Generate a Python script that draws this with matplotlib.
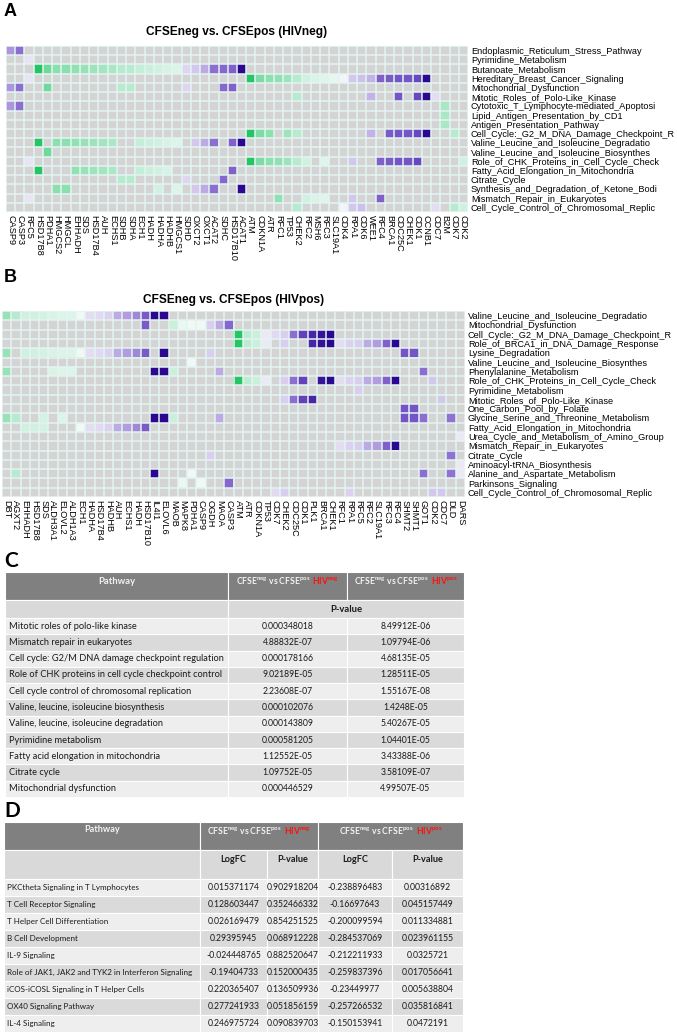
import numpy as np
import matplotlib
matplotlib.use("Agg")
import matplotlib.pyplot as plt
from matplotlib.colors import LinearSegmentedColormap, Normalize
from matplotlib.patches import Rectangle
from matplotlib.offsetbox import TextArea, HPacker, AnnotationBbox

plt.rcParams['font.family'] = ['Liberation Sans', 'DejaVu Sans']
plt.rcParams['mathtext.default'] = 'regular'

# ---------------------------------------------------------------------------
# panel A : gene fold change (HIVneg) and pathway membership
A_genes = ["CASP9", "CASP3", "RFC5", "HSD17B8", "PDHA1", "HMGCS2", "HMGCL", "EHHADH",
           "SDS", "HSD17B4", "AUH", "ECHS1", "SDHB", "SDHA", "ECH1", "HADH", "HADHA",
           "HADHB", "HMGCS1", "SDHD", "OXCT2", "OXCT1", "ACAT2", "SDHC", "HSD17B10",
           "ACAT1", "ATM", "CDKN1A", "ATR", "RFC1", "TP53", "CHEK2", "RFC2", "MSH6",
           "RFC3", "SLC19A1", "CDK4", "RPA1", "CDK6", "WEE1", "RFC4", "BRCA1", "CDC25C",
           "CHEK1", "CDK1", "CCNB1", "CDC7", "B2M", "CDK7", "CDK2"]
A_logfc = [1.3, 1.9, 0.2, -3.0, -2.0, -1.6, -1.6, -1.5,
           -1.4, -1.3, -1.2, -1.1, -0.9, -0.9, -0.7, -0.6, -0.5,
           -0.4, -0.3, 0.4, 0.6, 1.0, 1.9, 2.0, 2.1,
           3.5, -3.0, -1.8, -1.6, -1.5, -1.3, -0.9, -0.5, -0.35,
           -0.25, -0.15, 0.05, 0.6, 0.7, 0.9, 2.1, 2.2, 2.3,
           2.3, 2.5, 3.5, 0.3, -1.1, -0.9, -0.5]
A_pathways = ["Endoplasmic_Reticulum_Stress_Pathway", "Pyrimidine_Metabolism",
              "Butanoate_Metabolism", "Hereditary_Breast_Cancer_Signaling",
              "Mitochondrial_Dysfunction", "Mitotic_Roles_of_Polo-Like_Kinase",
              "Cytotoxic_T_Lymphocyte-mediated_Apoptosi", "Lipid_Antigen_Presentation_by_CD1",
              "Antigen_Presentation_Pathway", "Cell_Cycle:_G2_M_DNA_Damage_Checkpoint_R",
              "Valine_Leucine_and_Isoleucine_Degradatio", "Valine_Leucine_and_Isoleucine_Biosynthes",
              "Role_of_CHK_Proteins_in_Cell_Cycle_Check", "Fatty_Acid_Elongation_in_Mitochondria",
              "Citrate_Cycle", "Synthesis_and_Degradation_of_Ketone_Bodi",
              "Mismatch_Repair_in_Eukaryotes", "Cell_Cycle_Control_of_Chromosomal_Replic"]
A_members = [
    ["CASP9", "CASP3"],
    ["RFC5"],
    A_genes[3:26],
    ["RFC5"] + A_genes[26:46],
    ["CASP9", "CASP3", "PDHA1", "SDHB", "SDHA", "SDHD", "SDHC", "HSD17B10"],
    ["CHEK2", "WEE1", "CDC25C", "CDK1", "CCNB1", "CDC7"],
    ["CASP9", "CASP3", "B2M"],
    ["B2M"],
    ["B2M"],
    ["ATM", "CDKN1A", "ATR", "TP53", "CHEK2", "WEE1", "BRCA1", "CDC25C", "CHEK1", "CDK1",
     "CCNB1", "CDK7"],
    ["HSD17B8", "HMGCS2", "HMGCL", "EHHADH", "SDS", "HSD17B4", "AUH", "ECHS1", "ECH1",
     "HADH", "HADHA", "HADHB", "HMGCS1", "OXCT2", "OXCT1", "ACAT2", "HSD17B10", "ACAT1"],
    ["PDHA1"],
    ["RFC5", "ATM", "CDKN1A", "ATR", "RFC1", "TP53", "CHEK2", "RFC2", "RFC3", "RPA1",
     "RFC4", "BRCA1", "CDC25C", "CHEK1", "CDK1", "CDK2"],
    ["HSD17B8", "EHHADH", "SDS", "HSD17B4", "AUH", "ECHS1", "ECH1", "HADH", "HADHA",
     "HADHB", "HSD17B10"],
    ["SDHB", "SDHA", "SDHD", "SDHC"],
    ["HMGCS2", "HMGCL", "HADHA", "HMGCS1", "OXCT2", "OXCT1", "ACAT2", "ACAT1"],
    ["RFC5", "RFC1", "RFC2", "MSH6", "RFC3", "RPA1", "RFC4"],
    ["CHEK2", "CDK4", "RPA1", "CDK6", "CDC7", "CDK7", "CDK2"],
]

# panel B : gene fold change (HIVpos) and pathway membership
B_genes = ["DBT", "AGXT2", "EHHADH", "HSD17B8", "SDS", "ALDH3A1", "ELOVL2", "ALDH1A3",
           "ECH1", "HADHA", "HSD17B4", "HADHB", "AUH", "ECHS1", "HADH", "HSD17B10",
           "IL4I1", "ELOVL6", "MAOB", "MAPK8", "PDHA1", "CASP9", "OGDH", "MAOA", "CASP3",
           "ATM", "ATR", "CDKN1A", "TP53", "CDK7", "CHEK2", "CDC25C", "CDK1", "PLK1",
           "BRCA1", "CHEK1", "RFC1", "RPA1", "RFC5", "RFC2", "SLC19A1", "RFC3", "RFC4",
           "SHMT2", "SHMT1", "GOT1", "CDK2", "CDC7", "DLD", "DARS"]
B_logfc = [-1.4, -0.9, -0.5, -0.5, -0.45, -0.35, -0.3, -0.3,
           -0.05, 0.3, 0.35, 0.45, 1.0, 1.2, 1.5, 2.2,
           3.5, 3.5, -0.6, -0.1, -0.05, -0.05, 0.5, 1.0, 2.0,
           -3.0, -0.8, -0.6, 0.15, 0.35, 0.5, 1.9, 2.6, 3.0,
           3.3, 3.5, 0.3, 0.45, 0.5, 1.0, 1.2, 2.1, 3.5,
           2.3, 2.3, 1.9, 0.6, 0.6, 1.8, 0.15]
B_pathways = ["Valine_Leucine_and_Isoleucine_Degradatio", "Mitochondrial_Dysfunction",
              "Cell_Cycle:_G2_M_DNA_Damage_Checkpoint_R", "Role_of_BRCA1_in_DNA_Damage_Response",
              "Lysine_Degradation", "Valine_Leucine_and_Isoleucine_Biosynthes",
              "Phenylalanine_Metabolism", "Role_of_CHK_Proteins_in_Cell_Cycle_Check",
              "Pyrimidine_Metabolism", "Mitotic_Roles_of_Polo-Like_Kinase",
              "One_Carbon_Pool_by_Folate", "Glycine_Serine_and_Threonine_Metabolism",
              "Fatty_Acid_Elongation_in_Mitochondria", "Urea_Cycle_and_Metabolism_of_Amino_Group",
              "Mismatch_Repair_in_Eukaryotes", "Citrate_Cycle", "Aminoacyl-tRNA_Biosynthesis",
              "Alanine_and_Aspartate_Metabolism", "Parkinsons_Signaling",
              "Cell_Cycle_Control_of_Chromosomal_Replic"]
B_members = [
    B_genes[0:18],
    ["HSD17B10", "MAOB", "MAPK8", "PDHA1", "CASP9", "OGDH", "MAOA", "CASP3"],
    B_genes[25:36],
    ["ATM", "ATR", "CDKN1A", "TP53", "CHEK2", "PLK1", "BRCA1", "CHEK1"] + B_genes[36:43],
    ["DBT"] + B_genes[2:16] + ["ELOVL6", "OGDH", "SHMT2", "SHMT1"],
    ["PDHA1"],
    ["DBT", "ALDH3A1", "ELOVL2", "ALDH1A3", "IL4I1", "ELOVL6", "MAOB", "MAOA", "GOT1"],
    ["ATM", "ATR", "CDKN1A", "TP53", "CHEK2", "CDC25C", "CDK1", "BRCA1", "CHEK1"]
    + B_genes[36:43] + ["CDK2"],
    ["RFC5"],
    ["CHEK2", "CDC25C", "CDK1", "PLK1", "CDC7"],
    ["SHMT2", "SHMT1"],
    ["DBT", "AGXT2", "SDS", "ELOVL2", "IL4I1", "ELOVL6", "MAOB", "MAOA", "SHMT2", "SHMT1",
     "GOT1", "DLD"],
    ["EHHADH", "HSD17B8", "SDS"] + B_genes[8:16],
    ["DARS"],
    B_genes[36:43],
    ["OGDH", "DLD"],
    ["DARS"],
    ["AGXT2", "IL4I1", "PDHA1", "GOT1", "DLD", "DARS"],
    ["MAPK8", "CASP9", "CASP3"],
    ["CDK7", "CHEK2", "RPA1", "CDK2", "CDC7"],
]

# panel C : pathway p-values
C_pathways = ["Mitotic roles of polo-like kinase", "Mismatch repair in eukaryotes",
              "Cell cycle: G2/M DNA damage checkpoint regulation",
              "Role of CHK proteins in cell cycle checkpoint control",
              "Cell cycle control of chromosomal replication",
              "Valine, leucine, isoleucine biosynthesis", "Valine, leucine, isoleucine degradation",
              "Pyrimidine metabolism", "Fatty acid elongation in mitochondria", "Citrate cycle",
              "Mitochondrial dysfunction"]
C_p_hivneg = ["0.000348018", "4.88832E-07", "0.000178166", "9.02189E-05", "2.23608E-07",
              "0.000102076", "0.000143809", "0.000581205", "1.12552E-05", "1.09752E-05",
              "0.000446529"]
C_p_hivpos = ["8.49912E-06", "1.09794E-06", "4.68135E-05", "1.28511E-05", "1.55167E-08",
              "1.4248E-05", "5.40267E-05", "1.04401E-05", "3.43388E-06", "3.58109E-07",
              "4.99507E-05"]

# panel D : immune pathways
D_pathways = ["PKCtheta Signaling in T Lymphocytes", "T Cell Receptor Signaling",
              "T Helper Cell Differentiation", "B Cell Development", "IL-9 Signaling",
              "Role of JAK1, JAK2 and TYK2 in Interferon Signaling",
              "iCOS-iCOSL Signaling in T Helper Cells", "OX40 Signaling Pathway", "IL-4 Signaling"]
D_logfc_neg = ["0.015371174", "0.128603447", "0.026169479", "0.29395945", "-0.024448765",
               "-0.19404733", "0.220365407", "0.277241933", "0.246975724"]
D_p_neg = ["0.902918204", "0.352466332", "0.854251525", "0.068912228", "0.882520647",
           "0.152000435", "0.136509936", "0.051856159", "0.090839703"]
D_logfc_pos = ["-0.238896483", "-0.16697643", "-0.200099594", "-0.284537069", "-0.212211933",
               "-0.259837396", "-0.23449977", "-0.257266532", "-0.150153941"]
D_p_pos = ["0.00316892", "0.045157449", "0.011334881", "0.023961155", "0.0325721",
           "0.017056641", "0.005638804", "0.035816841", "0.0472191"]

# ---------------------------------------------------------------------------
W, H = 677, 1032
fig = plt.figure(figsize=(W / 100, H / 100), dpi=100)

# background axes in pixel coordinates (letters and tables)
bg = fig.add_axes([0, 0, 1, 1])
bg.set_xlim(0, W)
bg.set_ylim(H, 0)
bg.axis('off')

# green - white - purple scale
lo, hi = -3.0, 3.5
stops = [(-3.0, '#26c564'), (-1.8, '#80dca6'), (-0.9, '#b8ebcf'), (-0.1, '#eaf8f1'),
         (0.0, '#f6fafa'), (0.3, '#e4dcf2'), (0.9, '#c3b2e6'), (1.9, '#8c6dd0'),
         (2.5, '#6b48c0'), (3.5, '#2c0890')]
cmap = LinearSegmentedColormap.from_list(
    'gp', [((v - lo) / (hi - lo), c) for v, c in stops])
cmap.set_bad('#d4d4d4')
norm = Normalize(lo, hi)


def build(genes, vals, members):
    M = np.full((len(members), len(genes)), np.nan)
    for i, gl in enumerate(members):
        for g in gl:
            j = genes.index(g)
            M[i, j] = vals[j]
    return np.ma.masked_invalid(M)


def heatmap(box, genes, vals, pathways, members):
    x0, y0, x1, y1 = box
    ax = fig.add_axes([x0 / W, 1 - y1 / H, (x1 - x0) / W, (y1 - y0) / H])
    M = build(genes, vals, members)
    ax.imshow(M, cmap=cmap, norm=norm, aspect='auto', interpolation='nearest')
    ax.set_xticks(np.arange(len(genes)))
    ax.set_xticklabels(genes, rotation=270, fontsize=6.6)
    ax.set_yticks(np.arange(len(pathways)))
    ax.set_yticklabels(pathways, fontsize=6.6)
    ax.yaxis.tick_right()
    ax.tick_params(length=0, pad=2)
    ax.set_xticks(np.arange(-0.5, len(genes)), minor=True)
    ax.set_yticks(np.arange(-0.5, len(pathways)), minor=True)
    ax.grid(which='minor', color='#e3f4f2', linewidth=1.1)
    ax.tick_params(which='minor', length=0)
    for s in ax.spines.values():
        s.set_visible(False)
    return ax


heatmap((6, 46, 468, 212), A_genes, A_logfc, A_pathways, A_members)
heatmap((2, 311, 465, 497), B_genes, B_logfc, B_pathways, B_members)

bg.text(4, 11, 'A', fontsize=13, fontweight='bold', va='center')
bg.text(237, 32, 'CFSEneg vs. CFSEpos (HIVneg)', fontsize=8.6, fontweight='bold',
        ha='center', va='center')
bg.text(4, 277, 'B', fontsize=13, fontweight='bold', va='center')
bg.text(234, 300, 'CFSEneg vs. CFSEpos (HIVpos)', fontsize=8.6, fontweight='bold',
        ha='center', va='center')

# ---------------------------------------------------------------------------
TF = 'Lato'
HEAD = '#808080'
SUB = '#d9d9d9'
ROWS = ['#eeeeee', '#dadada']
INK = '#1a1a1a'


def cell(x0, x1, y0, y1, fc):
    bg.add_patch(Rectangle((x0, y0), x1 - x0, y1 - y0, facecolor=fc,
                           edgecolor='white', lw=0.8))


def cfse_header(x, y, hiv, fs):
    parts = [TextArea(r"CFSE$^{neg}$ vs CFSE$^{pos}$",
                      textprops=dict(color='#f2f2f2', fontsize=fs, fontweight='bold',
                                     family=TF)),
             TextArea(r"HIV$^{" + hiv + "}$",
                      textprops=dict(color='#ff1010', fontsize=fs, fontweight='bold',
                                     family=TF))]
    box = HPacker(children=parts, align='baseline', pad=0, sep=1.5)
    bg.add_artist(AnnotationBbox(box, (x, y), xycoords='data', frameon=False,
                                 box_alignment=(0.5, 0.5), pad=0))


# panel C
bg.text(4, 561, 'C', fontsize=15, fontweight='bold', va='center', family=TF)
cx = [5, 228, 347, 464]
for k in range(3):
    cell(cx[k], cx[k + 1], 572, 600, HEAD)
bg.text((cx[0] + cx[1]) / 2, 581, 'Pathway', color='#f2f2f2', fontsize=6.8,
        fontweight='bold', ha='center', va='center', family=TF)
cfse_header((cx[1] + cx[2]) / 2, 581, 'neg', 6.2)
cfse_header((cx[2] + cx[3]) / 2, 581, 'pos', 6.2)
cell(cx[0], cx[1], 600, 618, SUB)
cell(cx[1], cx[3], 600, 618, SUB)
bg.text((cx[1] + cx[3]) / 2, 609, 'P-value', fontsize=6.8, fontweight='bold', ha='center',
        va='center', family=TF, color=INK)
rh = (797 - 618) / len(C_pathways)
for i, name in enumerate(C_pathways):
    y0 = 618 + i * rh
    fc = ROWS[i % 2]
    for k in range(3):
        cell(cx[k], cx[k + 1], y0, y0 + rh, fc)
    yc = y0 + rh / 2
    bg.text(cx[0] + 4, yc, name, fontsize=6.7, va='center', family=TF, color=INK)
    bg.text((cx[1] + cx[2]) / 2, yc, C_p_hivneg[i], fontsize=6.2, ha='center',
            va='center', family=TF, color=INK)
    bg.text((cx[2] + cx[3]) / 2, yc, C_p_hivpos[i], fontsize=6.2, ha='center',
            va='center', family=TF, color=INK)

# panel D
bg.text(4, 811, 'D', fontsize=15, fontweight='bold', va='center', family=TF)
dx = [4, 200, 267, 318, 392, 463]
cell(dx[0], dx[1], 822, 850, HEAD)
cell(dx[1], dx[3], 822, 850, HEAD)
cell(dx[3], dx[5], 822, 850, HEAD)
bg.text((dx[0] + dx[1]) / 2, 830, 'Pathway', color='#f2f2f2', fontsize=6.6,
        fontweight='bold', ha='center', va='center', family=TF)
cfse_header((dx[1] + dx[3]) / 2, 830, 'neg', 6.2)
cfse_header((dx[3] + dx[5]) / 2, 830, 'pos', 6.2)
for k in range(5):
    cell(dx[k], dx[k + 1], 850, 879, SUB)
for k, lab in enumerate(['LogFC', 'P-value', 'LogFC', 'P-value']):
    bg.text((dx[k + 1] + dx[k + 2]) / 2, 860, lab, fontsize=6.6, fontweight='bold',
            ha='center', va='center', family=TF, color=INK)
rh = (1032 - 879) / len(D_pathways)
for i, name in enumerate(D_pathways):
    y0 = 879 + i * rh
    fc = ROWS[i % 2]
    for k in range(5):
        cell(dx[k], dx[k + 1], y0, y0 + rh, fc)
    yc = y0 + rh / 2
    bg.text(dx[0] + 3, yc, name, fontsize=5.8, va='center', family=TF, color=INK)
    cols = [D_logfc_neg[i], D_p_neg[i], D_logfc_pos[i], D_p_pos[i]]
    for k, v in enumerate(cols):
        bg.text((dx[k + 1] + dx[k + 2]) / 2, yc, v, fontsize=6.2, ha='center',
                va='center', family=TF, color=INK)

fig.savefig('out.png', dpi=100)
